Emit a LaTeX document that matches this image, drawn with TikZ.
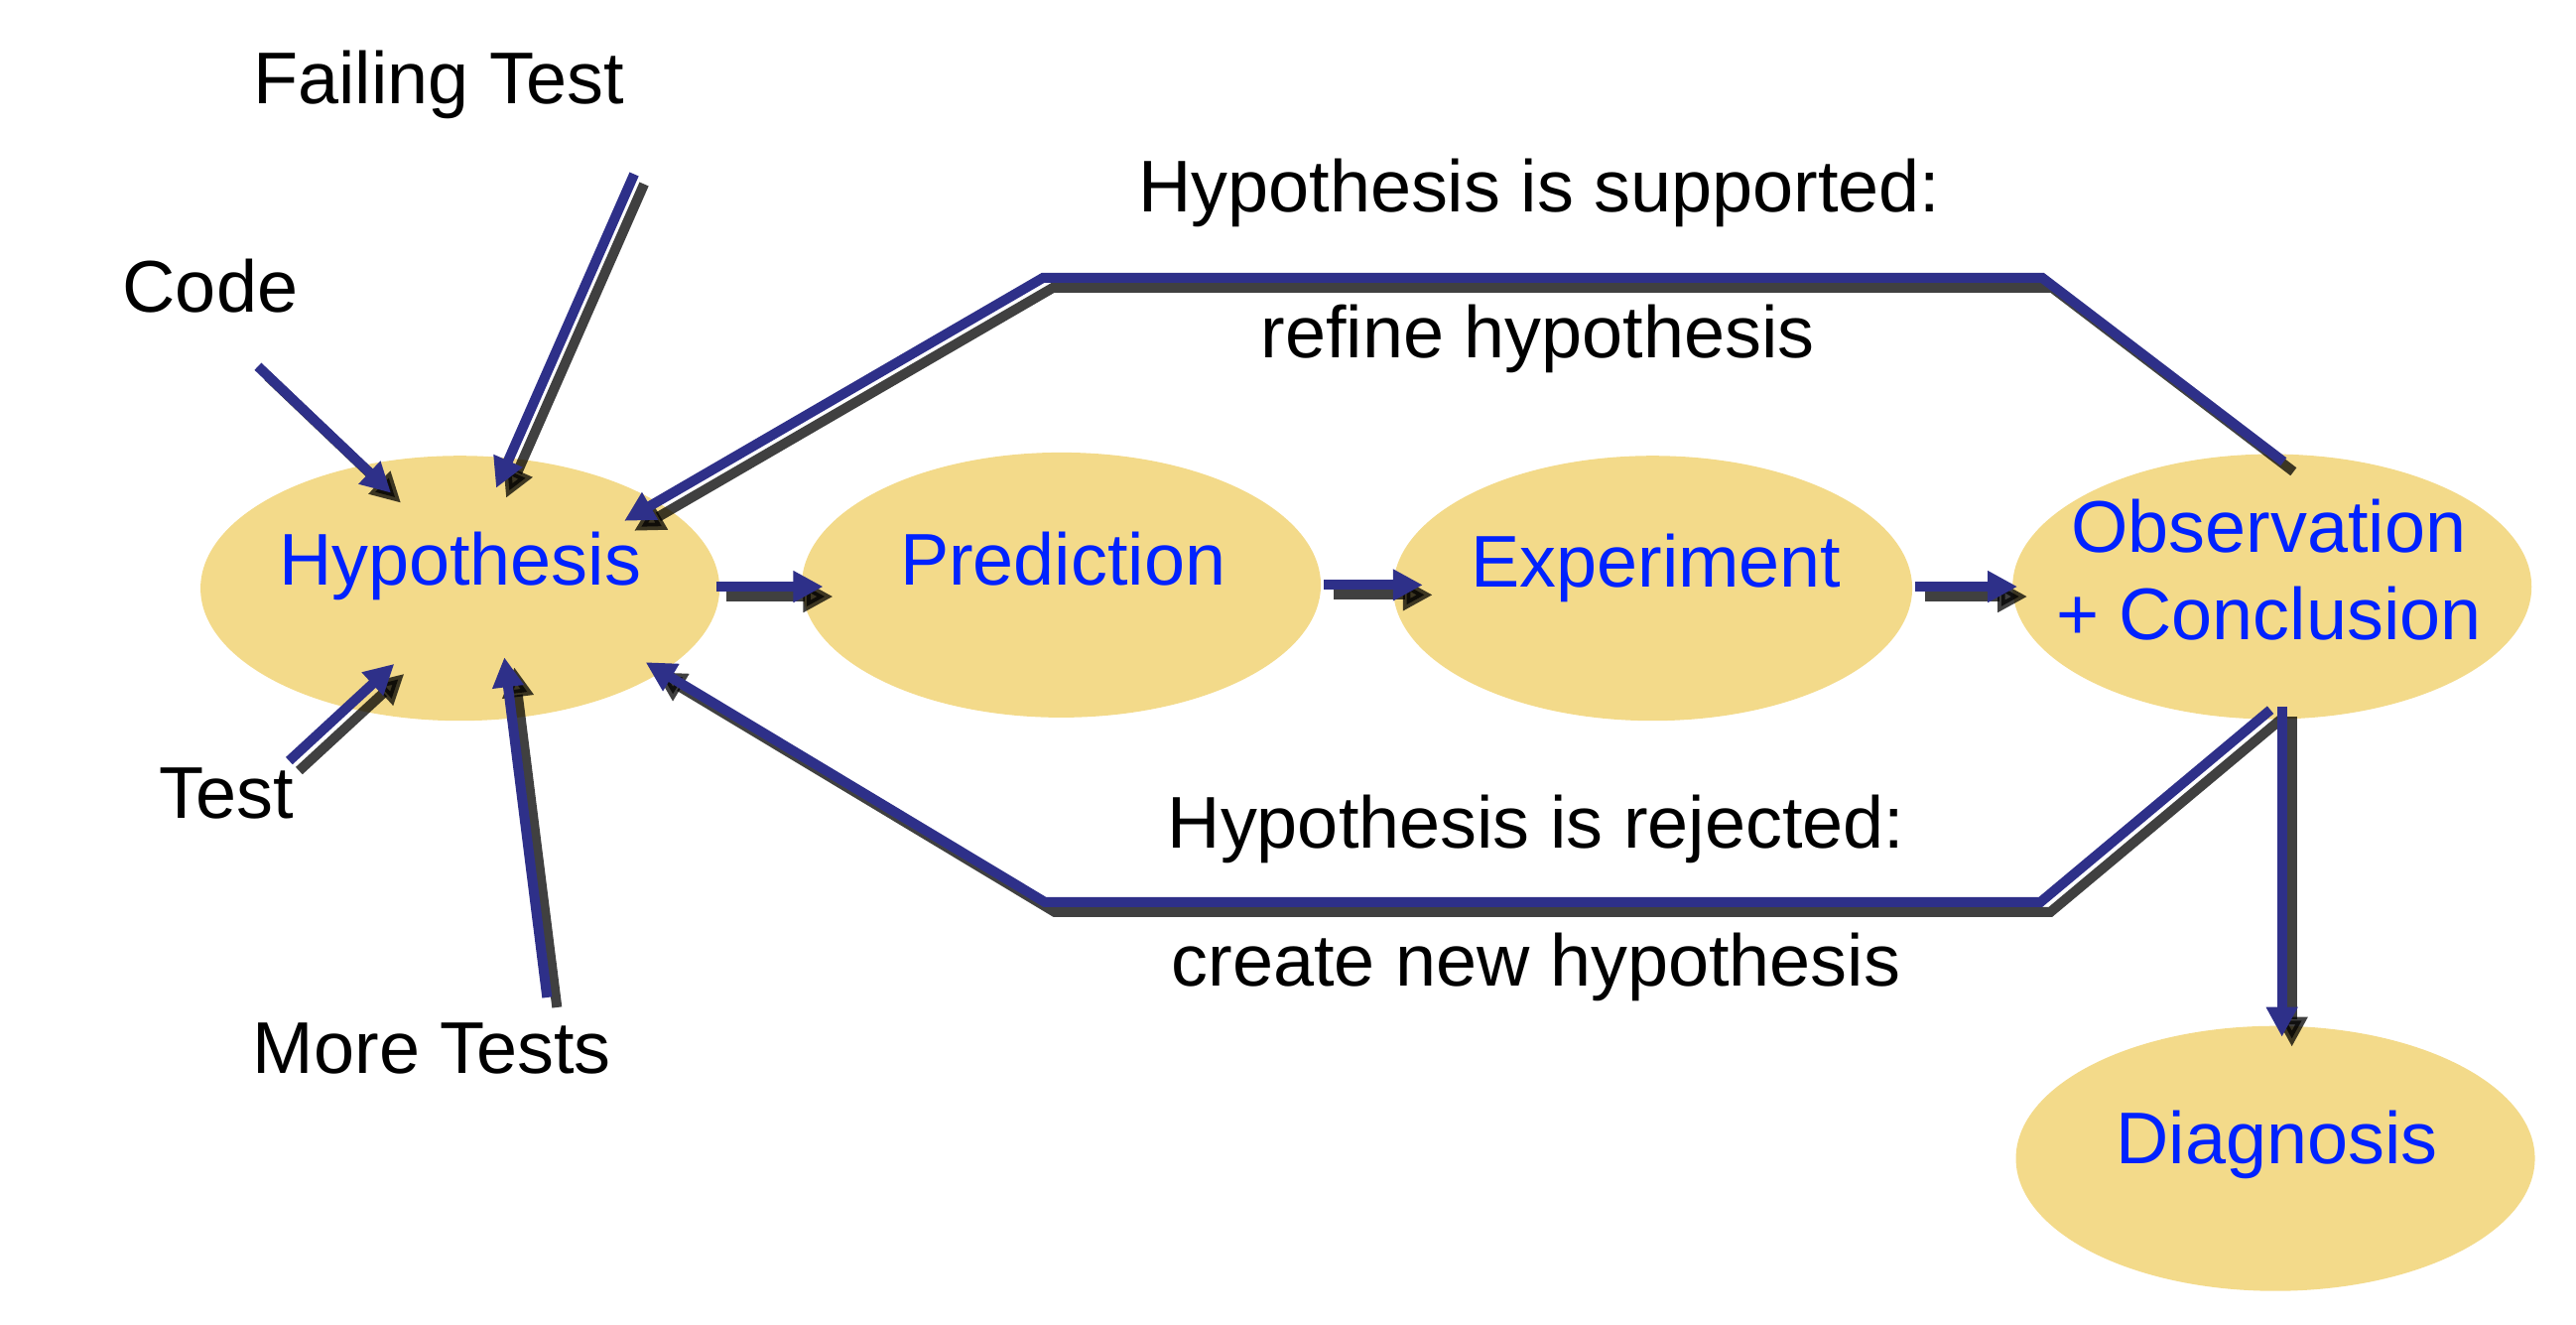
\documentclass[tikz,border=0pt]{standalone}
\usepackage{fontspec}
\setmainfont{Liberation Sans}
\usetikzlibrary{shapes.geometric,arrows.meta}
\definecolor{ellfill}{RGB}{243,218,138}
\definecolor{lineblue}{RGB}{46,48,137}
\definecolor{txtblue}{RGB}{0,34,255}
\newcommand\dconn[1]{%
  \draw[shadowline,transform canvas={shift={(0.1cm,-0.1cm)}}] #1;
  \draw[blueline] #1;}
\tikzset{
  blob/.style={ellipse, fill=ellfill, minimum width=5.23cm, minimum height=2.67cm, inner sep=0pt},
  blk/.style={font=\fontsize{21}{25}\selectfont, text=black, anchor=base, inner sep=0pt},
  blu/.style={blk, text=txtblue},
  tipstyle/.style={-{Triangle[length=0.3cm,width=0.3cm]}},
  blueline/.style={draw=lineblue, line width=0.1cm, tipstyle},
  shadowline/.style={draw=black, opacity=0.75, line width=0.1cm, tipstyle}
}
\begin{document}
\begin{tikzpicture}[x={(0.016556cm,0)}, y={(0,-0.016556cm)}]
\useasboundingbox (0,0) rectangle (1568,806);
% ellipses
\node[blob] (hyp)  at (280,358) {};
\node[blob] (pred) at (646,356) {};
\node[blob] (exp)  at (1006,358) {};
\node[blob] (obs)  at (1383,357) {};
\node[blob] (diag) at (1385,705) {};
% coordinates
\coordinate (ftS) at (386,106);  \coordinate (ftE) at (302,297);
\coordinate (cdS) at (157,223);  \coordinate (cdE) at (238,300);
\coordinate (tsS) at (176,463);  \coordinate (tsE) at (240,404);
\coordinate (mtS) at (333,607);  \coordinate (mtE) at (307,400);
\coordinate (hpS) at (436,357);  \coordinate (hpE) at (501,357);
\coordinate (peS) at (806,356);  \coordinate (peE) at (866,356);
\coordinate (eoS) at (1166,357); \coordinate (eoE) at (1228,357);
\coordinate (upS) at (1390,281); \coordinate (upA) at (1243,169);
\coordinate (upB) at (635,169);  \coordinate (upE) at (380,317);
\coordinate (dnS) at (1382,432); \coordinate (dnA) at (1242,549);
\coordinate (dnB) at (636,549);  \coordinate (dnE) at (393,403);
\coordinate (dgS) at (1389,430); \coordinate (dgE) at (1389,631);
% connectors
\dconn{(ftS) -- (ftE)}
\dconn{(cdS) -- (cdE)}
\dconn{(tsS) -- (tsE)}
\dconn{(mtS) -- (mtE)}
\dconn{(hpS) -- (hpE)}
\dconn{(peS) -- (peE)}
\dconn{(eoS) -- (eoE)}
\dconn{(upS) -- (upA) -- (upB) -- (upE)}
\dconn{(dnS) -- (dnA) -- (dnB) -- (dnE)}
\dconn{(dgS) -- (dgE)}
% texts in ellipses
\node[blu] (hypT)  at (280,356) {Hypothesis};
\node[blu] (predT) at (647,356) {Prediction};
\node[blu] (expT)  at (1008,357) {Experiment};
\node[blu] (obsT1) at (1381,336) {Observation};
\node[blu] (obsT2) at (1381,389) {+ Conclusion};
\node[blu] (diagT) at (1386,708) {Diagnosis};
% black labels
\node[blk] (ft) at (267,63) {Failing Test};
\node[blk] (cd) at (128,190) {Code};
\node[blk] (ts) at (138,498) {Test};
\node[blk] (mt) at (263,653) {More Tests};
\node[blk] (sup1) at (937,129) {Hypothesis is supported:};
\node[blk] (sup2) at (936,218) {refine hypothesis};
\node[blk] (rej1) at (935,516) {Hypothesis is rejected:};
\node[blk] (rej2) at (935,600) {create new hypothesis};
\end{tikzpicture}
\end{document}
